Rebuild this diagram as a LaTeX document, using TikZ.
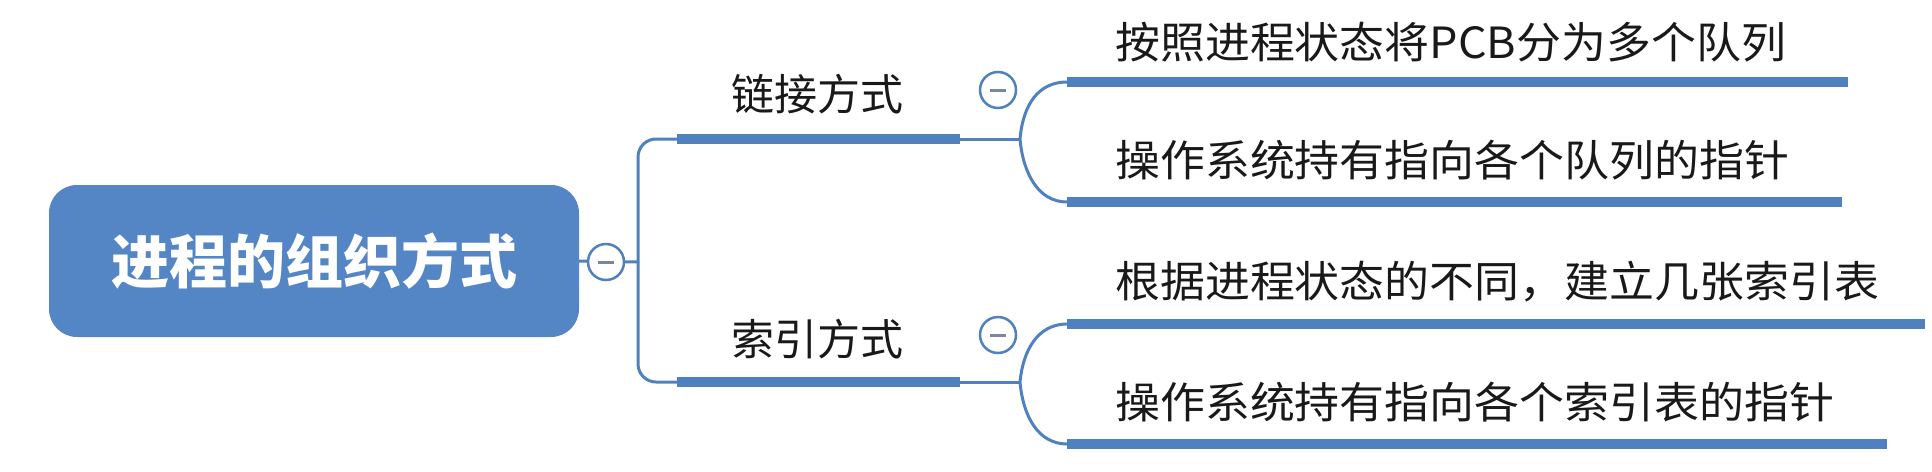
\documentclass[tikz,border=0pt]{standalone}
\usepackage{fontspec}
\newfontfamily\cjk{Noto Sans CJK SC}
\newfontfamily\cjkw[FakeStretch=1.045]{Noto Sans CJK SC}
\definecolor{mmblue}{RGB}{79,129,191}
\definecolor{rootblue}{RGB}{84,134,198}
\definecolor{minusgray}{RGB}{125,135,155}
\definecolor{txt}{RGB}{25,25,25}
\begin{document}
\begin{tikzpicture}[x=1pt,y=-1pt,
  bar/.style={line width=10pt, draw=mmblue},
  conn/.style={line width=3pt, draw=mmblue},
  collapse/.style={circle, draw=mmblue, line width=2.5pt, fill=white, minimum size=36pt, inner sep=0pt},
  minus/.style={line width=3pt, draw=minusgray},
  rootbox/.style={rounded corners=28pt, fill=rootblue, minimum width=530pt, minimum height=152pt, inner sep=0pt,
    text=white, font=\cjk\bfseries\fontsize{58}{64}\selectfont},
  branch/.style={font=\cjk\fontsize{43}{50}\selectfont, text=txt, inner sep=0pt},
  leaf/.style={font=\cjkw\fontsize{43}{50}\selectfont, text=txt, inner sep=0pt, anchor=west}]
\useasboundingbox (0,0) rectangle (1932,471);
% root
\node[rootbox] (root) at (314,261) {进程的组织方式};
% coordinates
\coordinate (tr) at (638,262);
\coordinate (b1l) at (677,139); \coordinate (b1r) at (960,139);
\coordinate (b2l) at (677,382); \coordinate (b2r) at (960,382);
\coordinate (s1) at (1020,139); \coordinate (s2) at (1020,382);
\coordinate (l1al) at (1067,82);  \coordinate (l1ar) at (1848,82);
\coordinate (l1bl) at (1067,202); \coordinate (l1br) at (1842,202);
\coordinate (l2al) at (1067,324); \coordinate (l2ar) at (1925,324);
\coordinate (l2bl) at (1067,444); \coordinate (l2br) at (1887,444);
% connectors
\draw[conn] (root.east) -- (tr);
\draw[conn, rounded corners=18pt] (b1l) -| (tr) |- (b2l);
\draw[conn] (b1r) -- (s1);
\draw[conn] (b2r) -- (s2);
\draw[conn] (s1) .. controls (1023,105) and (1038,82) .. (l1al);
\draw[conn] (s1) .. controls (1023,173) and (1038,202) .. (l1bl);
\draw[conn] (s2) .. controls (1023,350) and (1038,324) .. (l2al);
\draw[conn] (s2) .. controls (1023,416) and (1038,444) .. (l2bl);
% bars
\draw[bar] (b1l) -- (b1r);
\draw[bar] (b2l) -- (b2r);
\draw[bar] (l1al) -- (l1ar);
\draw[bar] (l1bl) -- (l1br);
\draw[bar] (l2al) -- (l2ar);
\draw[bar] (l2bl) -- (l2br);
% collapse buttons
\node[collapse] (c0) at (606,262) {};
\node[collapse] (c1) at (998,90) {};
\node[collapse] (c2) at (998,335) {};
\foreach \c in {c0,c1,c2}{
  \draw[minus] ([xshift=-8pt]\c.center) -- ([xshift=8pt]\c.center);
}
% labels
\node[branch] (t1) at (817,94) {链接方式};
\node[branch] (t2) at (817,339) {索引方式};
\node[leaf] (t1a) at (1115,42) {按照进程状态将PCB分为多个队列};
\node[leaf] (t1b) at (1115,160) {操作系统持有指向各个队列的指针};
\node[leaf] (t2a) at (1115,282) {根据进程状态的不同，建立几张索引表};
\node[leaf] (t2b) at (1115,402) {操作系统持有指向各个索引表的指针};
\end{tikzpicture}
\end{document}
